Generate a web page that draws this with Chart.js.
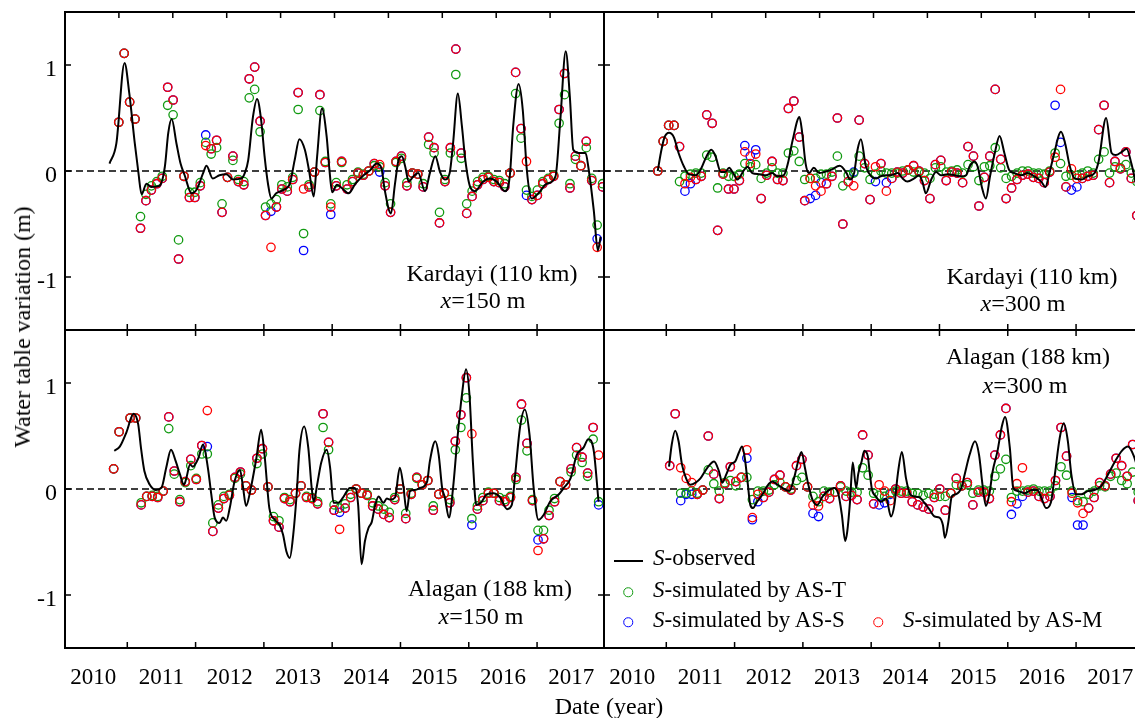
<!DOCTYPE html>
<html>
<head>
<meta charset="utf-8">
<script src="https://cdn.jsdelivr.net/npm/chart.js@4.4.0/dist/chart.umd.min.js"></script>
<style>
  html, body { margin: 0; padding: 0; background: #fff; }
  body { width: 1135px; height: 718px; overflow: hidden; position: relative;
         font-family: "Liberation Serif", "Times New Roman", serif; color: #000; }
  .panel { position: absolute; }
  .txt { position: absolute; font-size: 24px; line-height: 24px; white-space: nowrap;
         transform: translate(-50%, -50%); }
  .leg { position: absolute; font-size: 23px; line-height: 23px; white-space: nowrap;
         transform: translateY(-50%); }
  .leg-line { position: absolute; height: 0; border-top: 2px solid #000; }
  .leg-dot { position: absolute; width: 7.5px; height: 7.5px; border: 1.5px solid; border-radius: 50%;
             transform: translate(-50%, -50%); }
</style>
</head>
<body>

<div class="panel" style="left:0;top:0;width:605px;height:331px"><canvas id="p1"></canvas></div>
<div class="panel" style="left:604px;top:0;width:540px;height:331px"><canvas id="p2"></canvas></div>
<div class="panel" style="left:0;top:329px;width:605px;height:389px"><canvas id="p3"></canvas></div>
<div class="panel" style="left:604px;top:329px;width:540px;height:389px"><canvas id="p4"></canvas></div>

<div class="txt" style="left:492px;top:273px">Kardayi (110 km)</div>
<div class="txt" style="left:483px;top:300px"><i>x</i>=150 m</div>
<div class="txt" style="left:1032px;top:276px">Kardayi (110 km)</div>
<div class="txt" style="left:1023px;top:303px"><i>x</i>=300 m</div>
<div class="txt" style="left:490px;top:588px">Alagan (188 km)</div>
<div class="txt" style="left:481px;top:616px"><i>x</i>=150 m</div>
<div class="txt" style="left:1028px;top:356px">Alagan (188 km)</div>
<div class="txt" style="left:1025px;top:385px"><i>x</i>=300 m</div>

<div class="txt" style="left:22px;top:327px;transform:translate(-50%,-50%) rotate(-90deg)">Water table variation (m)</div>
<div class="txt" style="left:609px;top:706px">Date (year)</div>

<div class="leg-line" style="left:614px;top:560px;width:29px"></div>
<div class="leg" style="left:653px;top:557px"><i>S</i>-observed</div>
<div class="leg-dot" id="dotT" style="left:628px;top:592px"></div>
<div class="leg" style="left:653px;top:589px"><i>S</i>-simulated by AS-T</div>
<div class="leg-dot" id="dotS" style="left:628px;top:622px"></div>
<div class="leg" style="left:653px;top:619px"><i>S</i>-simulated by AS-S</div>
<div class="leg-dot" id="dotM" style="left:878px;top:622px"></div>
<div class="leg" style="left:903px;top:619px"><i>S</i>-simulated by AS-M</div>

<script>
// --- axes ---
const yearLabels = ['2010', '2011', '2012', '2013', '2014', '2015', '2016', '2017'];
const yearBounds = [2011, 2012, 2013, 2014, 2015, 2016, 2017];
const yTicks = [-1, 0, 1];
const xMin = 2010.088, xMax = 2017.98;

const colT = '#119a11', colS = '#0000ff', colM = '#ff0000';

// --- Kardayi, x = 150 m ---
const kar150Start = 2010.875, kar150Step = 0.0796;
const kar150Obs = [[2010.74,0.07],[2010.84,0.26],[2010.96,1.02],[2011.03,0.73],[2011.11,0.26],[2011.16,0],[2011.21,-0.22],[2011.28,-0.12],[2011.35,-0.15],[2011.47,-0.14],[2011.55,0.04],[2011.6,0.36],[2011.65,0.49],[2011.72,0.26],[2011.78,0.07],[2011.84,-0.04],[2011.94,-0.21],[2012.02,-0.17],[2012.11,-0.02],[2012.16,0.05],[2012.25,-0.07],[2012.35,-0.04],[2012.45,-0.03],[2012.55,-0.08],[2012.67,-0.07],[2012.72,-0.02],[2012.77,0.10],[2012.84,0.51],[2012.9,0.68],[2012.96,0.48],[2013.01,0.14],[2013.06,-0.12],[2013.11,-0.26],[2013.18,-0.21],[2013.28,-0.18],[2013.38,-0.12],[2013.45,0.10],[2013.52,0.30],[2013.6,0.20],[2013.66,0.01],[2013.73,-0.24],[2013.78,0.14],[2013.85,0.59],[2013.92,0.32],[2013.96,0.01],[2014.0,-0.2],[2014.07,-0.13],[2014.14,-0.16],[2014.24,-0.21],[2014.34,-0.12],[2014.46,-0.04],[2014.56,0.01],[2014.65,0.07],[2014.72,0.03],[2014.77,-0.18],[2014.86,-0.40],[2014.92,-0.12],[2014.97,0.10],[2015.02,0.14],[2015.07,0.04],[2015.12,-0.10],[2015.19,-0.05],[2015.26,-0.02],[2015.36,-0.19],[2015.43,-0.02],[2015.51,0.14],[2015.58,-0.01],[2015.65,-0.08],[2015.72,-0.02],[2015.77,0.26],[2015.84,0.73],[2015.9,0.42],[2015.95,0.10],[2016.02,-0.15],[2016.09,-0.19],[2016.21,-0.10],[2016.31,-0.07],[2016.41,-0.10],[2016.53,-0.19],[2016.6,-0.05],[2016.65,0.42],[2016.73,0.82],[2016.79,0.58],[2016.85,0.01],[2016.92,-0.26],[2017.02,-0.21],[2017.14,-0.12],[2017.27,-0.05],[2017.34,0.48],[2017.42,1.13],[2017.48,0.70],[2017.53,0.20],[2017.61,0.17],[2017.71,0.17],[2017.75,0.04],[2017.83,-0.37],[2017.89,-0.75],[2017.93,-0.62]];
const kar150T = [0.46,1.11,0.65,0.49,-0.43,-0.22,-0.14,-0.10,-0.05,0.62, 0.53,-0.65,-0.05,-0.20,-0.20,-0.11,0.27,0.16,0.22,-0.31, -0.06,0.10,-0.08,-0.10,0.69,0.77,0.37,-0.34,-0.31,-0.27, -0.13,-0.15,-0.06,0.58,-0.59,-0.13,-0.01,0.57,0.09,-0.31, -0.11,0.08,-0.13,-0.08,-0.01,-0.03,0.00,0.05,0.04,-0.11, -0.31,0.08,0.12,-0.11,-0.02,-0.03,-0.12,0.25,0.17,-0.39, -0.08,0.17,0.91,0.12,-0.31,-0.19,-0.10,-0.06,-0.05,-0.08, -0.09,-0.12,-0.02,0.73,0.31,-0.18,-0.24,-0.18,-0.10,-0.07, -0.04,0.45,0.72,-0.12,0.11,0.05,0.22,-0.07,-0.51,-0.12];
const kar150S = [0.46,1.11,0.65,0.49,-0.54,-0.28,-0.18,-0.12,-0.07,0.79, 0.67,-0.83,-0.05,-0.25,-0.25,-0.14,0.34,0.21,0.29,-0.39, -0.06,0.14,-0.10,-0.13,0.87,0.98,0.47,-0.42,-0.38,-0.34, -0.17,-0.19,-0.08,0.74,-0.75,-0.15,-0.01,0.72,0.08,-0.41, -0.14,0.09,-0.17,-0.10,-0.02,-0.04,0.00,0.07,-0.01,-0.14, -0.39,0.09,0.14,-0.14,-0.02,-0.03,-0.15,0.32,0.22,-0.49, -0.10,0.22,1.15,0.17,-0.40,-0.24,-0.13,-0.08,-0.06,-0.10, -0.11,-0.15,-0.02,0.93,0.40,-0.23,-0.27,-0.23,-0.12,-0.08, -0.05,0.58,0.92,-0.16,0.14,0.05,0.28,-0.09,-0.64,-0.15];
const kar150M = [0.46,1.11,0.65,0.49,-0.54,-0.28,-0.18,-0.12,-0.07,0.79, 0.67,-0.83,-0.05,-0.25,-0.25,-0.14,0.24,0.21,0.29,-0.39, -0.06,0.14,-0.10,-0.13,0.87,0.98,0.47,-0.42,-0.72,-0.34, -0.17,-0.19,-0.08,0.74,-0.17,-0.15,-0.01,0.72,0.08,-0.34, -0.14,0.09,-0.17,-0.10,-0.02,-0.04,0.00,0.07,0.06,-0.14, -0.39,0.09,0.14,-0.14,-0.02,-0.03,-0.15,0.32,0.22,-0.49, -0.10,0.22,1.15,0.17,-0.40,-0.24,-0.13,-0.08,-0.06,-0.10, -0.11,-0.15,-0.02,0.93,0.40,0.09,-0.27,-0.23,-0.12,-0.08, -0.05,0.58,0.92,-0.16,0.14,0.05,0.28,-0.09,-0.72,-0.15];

// --- Kardayi, x = 300 m ---
const kar300Start = 2010.875, kar300Step = 0.0797;
const kar300Obs = [[2010.875,0.0],[2010.92,0.17],[2010.97,0.31],[2011.04,0.36],[2011.11,0.32],[2011.18,0.17],[2011.26,0.04],[2011.33,-0.03],[2011.43,-0.04],[2011.5,0.01],[2011.59,0.14],[2011.66,0.20],[2011.72,0.14],[2011.8,-0.01],[2011.86,-0.01],[2011.92,0.03],[2011.98,-0.02],[2012.04,-0.08],[2012.14,0.01],[2012.19,0.04],[2012.26,-0.02],[2012.36,-0.03],[2012.46,-0.04],[2012.55,-0.02],[2012.63,-0.05],[2012.72,-0.04],[2012.78,0.07],[2012.85,0.29],[2012.95,0.51],[2012.99,0.36],[2013.04,0.07],[2013.09,-0.02],[2013.16,0.03],[2013.24,-0.02],[2013.31,-0.01],[2013.41,0.01],[2013.54,0.05],[2013.64,-0.02],[2013.69,-0.08],[2013.75,-0.02],[2013.8,0.20],[2013.85,0.30],[2013.92,0.05],[2014.0,-0.05],[2014.07,-0.07],[2014.14,-0.05],[2014.22,-0.04],[2014.29,-0.04],[2014.39,-0.02],[2014.46,-0.07],[2014.53,-0.10],[2014.63,-0.07],[2014.7,-0.04],[2014.75,-0.10],[2014.8,-0.21],[2014.88,-0.08],[2014.95,-0.01],[2015.02,-0.04],[2015.12,-0.03],[2015.22,-0.04],[2015.32,-0.05],[2015.39,-0.04],[2015.44,0.04],[2015.51,0.09],[2015.56,0.04],[2015.62,-0.15],[2015.68,-0.26],[2015.74,-0.05],[2015.81,0.17],[2015.88,0.33],[2015.95,0.17],[2016.02,0.01],[2016.1,-0.02],[2016.2,-0.04],[2016.29,-0.02],[2016.39,-0.05],[2016.49,-0.10],[2016.55,-0.15],[2016.61,-0.02],[2016.67,0.14],[2016.78,0.37],[2016.84,0.26],[2016.91,0.04],[2016.98,-0.07],[2017.08,-0.08],[2017.17,-0.05],[2017.27,-0.02],[2017.33,0.09],[2017.44,0.50],[2017.52,0.17],[2017.58,0.15],[2017.67,0.18],[2017.74,0.21],[2017.81,0.07],[2017.89,-0.16],[2017.95,-0.3]];
const kar300T = [0.0,0.28,0.43,0.43,-0.10,-0.05,-0.03,-0.02,-0.02,0.15, 0.13,-0.16,-0.02,-0.05,-0.05,-0.03,0.07,0.04,0.06,-0.07, -0.02,0.03,-0.02,-0.02,0.17,0.19,0.09,-0.08,-0.07,-0.07, -0.03,-0.03,-0.01,0.14,-0.14,-0.04,-0.02,0.14,0.03,-0.08, -0.03,0.00,-0.02,-0.02,-0.02,0.00,0.01,-0.01,-0.01,-0.02, -0.07,0.03,0.04,-0.01,0.00,0.01,-0.02,0.06,0.04,-0.09, 0.04,0.05,0.22,0.03,-0.07,-0.05,-0.02,0.00,0.00,-0.02, -0.02,-0.03,0.00,0.17,0.07,-0.05,-0.04,-0.04,-0.02,0.00, -0.02,0.11,0.18,-0.02,0.04,0.03,0.06,-0.02,-0.10];
const kar300S = [0.0,0.28,0.43,0.43,0.23,-0.19,-0.12,-0.08,-0.05,0.53, 0.45,-0.56,-0.03,-0.17,-0.17,-0.09,0.24,0.14,0.20,-0.26, -0.04,0.09,-0.08,-0.09,0.59,0.66,0.32,-0.28,-0.26,-0.23, -0.11,-0.12,-0.05,0.50,-0.50,-0.10,-0.01,0.48,0.07,-0.27, -0.10,0.07,-0.11,-0.07,-0.01,-0.02,0.01,0.05,0.00,-0.09, -0.26,0.06,0.10,-0.09,-0.01,-0.02,-0.11,0.23,0.14,-0.33, -0.06,0.14,0.77,0.11,-0.26,-0.16,-0.08,-0.04,-0.03,-0.06, -0.07,-0.11,-0.01,0.62,0.27,-0.15,-0.18,-0.15,-0.07,-0.05, -0.04,0.39,0.62,-0.11,0.09,0.02,0.18,-0.07,-0.42];
const kar300M = [0.0,0.28,0.43,0.43,0.23,-0.12,-0.06,-0.08,-0.05,0.53, 0.45,-0.56,-0.03,-0.17,-0.17,-0.09,0.18,0.07,0.16,-0.26, -0.04,0.09,-0.08,-0.09,0.59,0.66,0.32,-0.28,-0.07,-0.14, -0.19,-0.12,-0.05,0.50,-0.50,-0.10,-0.14,0.48,0.07,-0.27, 0.04,0.07,-0.19,-0.07,-0.01,-0.02,0.01,0.05,0.00,-0.09, -0.26,0.06,0.10,-0.09,-0.01,-0.02,-0.11,0.23,0.14,-0.33, -0.06,0.14,0.77,0.11,-0.26,-0.16,-0.08,-0.04,-0.03,-0.06, -0.07,-0.11,-0.01,0.13,0.77,-0.15,0.02,-0.07,-0.07,-0.05, -0.04,0.39,0.62,-0.11,0.09,0.02,0.18,-0.07,-0.42];

// --- Alagan, x = 150 m ---
const ala150Start = 2010.80, ala150Step = 0.0807;
const ala150Obs = [[2010.81,0.36],[2010.89,0.40],[2010.99,0.54],[2011.09,0.71],[2011.16,0.61],[2011.2,0.39],[2011.25,0.17],[2011.33,0.04],[2011.42,-0.01],[2011.5,0.01],[2011.57,0.20],[2011.64,0.37],[2011.71,0.26],[2011.77,0.14],[2011.83,0.04],[2011.86,0.09],[2011.92,0.23],[2011.96,0.21],[2012.04,0.29],[2012.11,0.42],[2012.18,0.20],[2012.23,-0.05],[2012.28,-0.27],[2012.35,-0.32],[2012.4,-0.27],[2012.45,-0.30],[2012.5,-0.18],[2012.57,0.07],[2012.65,0.18],[2012.69,0.04],[2012.74,-0.16],[2012.8,-0.02],[2012.89,0.29],[2012.96,0.56],[2013.01,0.32],[2013.08,-0.18],[2013.16,-0.29],[2013.23,-0.34],[2013.28,-0.43],[2013.33,-0.59],[2013.38,-0.65],[2013.43,-0.43],[2013.48,-0.05],[2013.52,0.36],[2013.59,0.59],[2013.65,0.39],[2013.7,0.01],[2013.73,-0.12],[2013.78,0.04],[2013.84,0.25],[2013.92,0.37],[2013.97,0.20],[2014.02,-0.13],[2014.09,-0.13],[2014.16,-0.08],[2014.26,0.01],[2014.33,0.01],[2014.38,-0.15],[2014.43,-0.71],[2014.48,-0.49],[2014.53,-0.37],[2014.58,-0.31],[2014.63,-0.15],[2014.68,-0.07],[2014.75,-0.13],[2014.8,-0.09],[2014.85,-0.10],[2014.92,-0.08],[2014.99,0.20],[2015.04,0.04],[2015.09,-0.21],[2015.14,-0.02],[2015.21,-0.01],[2015.29,0.01],[2015.39,0.07],[2015.43,0.26],[2015.51,0.45],[2015.56,0.32],[2015.61,0.01],[2015.65,-0.08],[2015.71,-0.27],[2015.77,0.01],[2015.83,0.45],[2015.9,0.89],[2015.96,1.13],[2016.01,0.89],[2016.06,0.26],[2016.11,-0.15],[2016.19,-0.12],[2016.26,-0.05],[2016.36,-0.04],[2016.46,-0.08],[2016.56,-0.19],[2016.63,-0.15],[2016.68,0.14],[2016.75,0.58],[2016.82,0.75],[2016.89,0.51],[2016.95,0.01],[2017.02,-0.29],[2017.1,-0.24],[2017.19,-0.12],[2017.32,-0.05],[2017.39,0.01],[2017.49,0.10],[2017.58,0.32],[2017.68,0.39],[2017.75,0.47],[2017.83,0.36],[2017.9,-0.12]];
const ala150T = [0.19,0.54,null,0.67,0.67,-0.13,-0.07,-0.06,-0.07,-0.02, 0.57,0.14,-0.10,0.06,0.22,0.10,0.33,0.33,-0.32,-0.15, -0.07,-0.05,0.10,0.14,0.03,-0.01,0.24,0.33,0.02,-0.26, -0.30,-0.08,-0.10,-0.04,0.03,-0.07,-0.08,-0.12,0.58,0.37, -0.15,-0.18,-0.14,-0.05,0.00,-0.04,-0.05,-0.13,-0.16,-0.19, -0.22,-0.08,0.00,-0.23,-0.04,0.10,0.04,0.08,-0.16,-0.05, -0.04,-0.10,0.37,0.58,0.86,-0.28,-0.16,-0.08,-0.03,-0.04, -0.08,-0.10,-0.07,0.09,0.65,0.36,-0.10,-0.39,-0.39,-0.20, -0.09,0.07,0.04,0.16,0.32,0.25,0.12,0.47,-0.12];
const ala150S = [0.19,0.54,null,0.67,0.67,-0.15,-0.07,-0.07,-0.08,-0.02, 0.68,0.17,-0.12,0.07,0.28,0.09,0.41,0.40,-0.40,-0.18, -0.09,-0.06,0.11,0.16,0.03,-0.01,0.29,0.38,0.02,-0.30, -0.36,-0.09,-0.12,-0.04,0.03,-0.08,-0.09,-0.14,0.71,0.44, -0.20,-0.22,-0.18,-0.08,0.00,-0.04,-0.06,-0.16,-0.19,-0.24, -0.27,-0.10,0.00,-0.28,-0.05,0.11,0.04,0.08,-0.20,-0.05, -0.04,-0.13,0.45,0.70,1.05,-0.34,-0.19,-0.11,-0.04,-0.04, -0.11,-0.12,-0.08,0.11,0.80,0.43,-0.11,-0.48,-0.47,-0.25, -0.12,0.07,0.04,0.19,0.39,0.30,0.15,0.58,-0.15];
const ala150M = [0.19,0.54,null,0.67,0.67,-0.15,-0.07,-0.07,-0.08,-0.02, 0.68,0.17,-0.12,0.07,0.28,0.09,0.41,0.74,-0.40,-0.18, -0.09,-0.06,0.11,0.16,0.03,-0.01,0.29,0.38,0.02,-0.30, -0.36,-0.09,-0.12,-0.04,0.03,-0.08,-0.09,-0.14,0.71,0.44, -0.20,-0.38,-0.18,-0.08,0.00,-0.04,-0.06,-0.16,-0.19,-0.24, -0.27,-0.10,0.00,-0.28,-0.05,0.11,0.04,0.08,-0.20,-0.05, -0.04,-0.13,0.45,0.70,1.05,0.52,-0.19,-0.11,-0.04,-0.04, -0.11,-0.12,-0.08,0.11,0.80,0.43,-0.11,-0.58,-0.47,-0.25, -0.12,0.07,0.04,0.19,0.39,0.30,0.15,0.58,0.32];

// --- Alagan, x = 300 m ---
const ala300Start = 2011.05, ala300Step = 0.0807;
const ala300Obs = [[2011.04,0.21],[2011.08,0.42],[2011.13,0.55],[2011.18,0.45],[2011.23,0.23],[2011.29,0.10],[2011.35,0.04],[2011.43,0.06],[2011.5,0.10],[2011.6,0.20],[2011.7,0.26],[2011.77,0.17],[2011.82,0.06],[2011.88,0.14],[2011.94,0.23],[2012.01,0.26],[2012.06,0.34],[2012.11,0.40],[2012.15,0.29],[2012.19,0.07],[2012.23,-0.15],[2012.27,-0.18],[2012.33,-0.12],[2012.41,-0.05],[2012.48,0.03],[2012.55,0.07],[2012.63,0.04],[2012.7,0.01],[2012.8,-0.02],[2012.87,0.10],[2012.93,0.26],[2012.98,0.35],[2013.03,0.20],[2013.08,0.04],[2013.14,-0.10],[2013.21,-0.15],[2013.29,-0.07],[2013.36,-0.02],[2013.46,0.01],[2013.52,-0.05],[2013.57,-0.24],[2013.62,-0.49],[2013.65,-0.40],[2013.69,-0.12],[2013.73,0.25],[2013.78,0.01],[2013.81,0.14],[2013.86,0.26],[2013.9,0.36],[2013.95,0.31],[2013.98,0.15],[2014.01,0.0],[2014.07,-0.07],[2014.14,-0.12],[2014.22,-0.09],[2014.29,-0.26],[2014.34,-0.15],[2014.39,0.14],[2014.45,0.35],[2014.51,0.10],[2014.57,-0.05],[2014.63,-0.07],[2014.71,-0.08],[2014.78,-0.13],[2014.85,-0.19],[2014.93,-0.26],[2015.0,-0.27],[2015.05,-0.34],[2015.08,-0.46],[2015.13,-0.31],[2015.18,-0.07],[2015.24,-0.05],[2015.32,0.01],[2015.37,0.14],[2015.44,0.32],[2015.52,0.45],[2015.58,0.32],[2015.63,0.04],[2015.68,-0.16],[2015.73,-0.05],[2015.78,0.17],[2015.85,0.36],[2015.91,0.58],[2015.96,0.68],[2016.03,0.39],[2016.08,0.01],[2016.15,-0.02],[2016.25,-0.04],[2016.35,-0.01],[2016.43,-0.01],[2016.49,-0.08],[2016.56,-0.18],[2016.63,-0.13],[2016.69,0.14],[2016.76,0.48],[2016.82,0.62],[2016.88,0.45],[2016.93,0.14],[2017.0,-0.05],[2017.08,-0.05],[2017.17,-0.02],[2017.27,-0.01],[2017.37,0.03],[2017.47,0.14],[2017.57,0.26],[2017.67,0.36],[2017.76,0.40],[2017.84,0.32],[2017.9,0.2]];
const ala300T = [null,null,-0.04,-0.04,-0.02,-0.04,-0.01,0.18,0.05,-0.02, 0.06,0.08,0.03,0.11,0.11,-0.10,-0.02,-0.02,-0.01,0.04, 0.06,0.02,0.00,0.08,0.11,0.02,-0.07,-0.12,-0.02,-0.03, -0.03,0.02,-0.02,-0.03,-0.03,0.20,0.13,-0.04,-0.06,-0.07, -0.04,-0.02,-0.02,-0.02,-0.04,-0.04,-0.06,-0.04,-0.05,-0.07, -0.07,-0.04,0.04,0.03,0.04,-0.04,-0.01,-0.01,-0.02,0.12, 0.19,0.28,-0.08,-0.02,-0.02,-0.01,0.00,-0.02,-0.02,-0.02, 0.03,0.21,0.13,-0.02,-0.11,-0.12,-0.05,-0.02,0.03,0.02, 0.12,0.15,0.08,0.05,0.16,-0.03];
const ala300S = [0.22,0.71,-0.11,-0.05,-0.05,-0.05,-0.01,0.50,0.14,-0.09, 0.05,0.21,0.07,0.11,0.29,-0.29,-0.12,-0.08,-0.03,0.09, 0.13,0.02,-0.01,0.22,0.28,0.02,-0.23,-0.26,-0.07,-0.09, -0.03,0.03,-0.07,-0.06,-0.10,0.51,0.32,-0.14,-0.15,-0.13, -0.05,0.00,-0.04,-0.04,-0.12,-0.15,-0.17,-0.19,-0.08,0.00, -0.20,-0.04,0.10,0.03,0.06,-0.15,-0.03,-0.03,-0.09,0.32, 0.51,0.76,-0.24,-0.14,-0.07,-0.03,-0.02,-0.07,-0.09,-0.07, 0.08,0.58,0.31,-0.08,-0.34,-0.34,-0.18,-0.08,0.06,0.03, 0.14,0.29,0.22,0.12,0.42,-0.11];
const ala300M = [0.22,0.71,0.20,0.10,0.06,-0.05,-0.01,0.50,0.14,-0.09, 0.05,0.21,0.07,0.11,0.37,-0.27,-0.05,-0.08,-0.03,0.09, 0.13,0.02,-0.01,0.22,0.28,0.02,-0.15,-0.16,-0.07,-0.09, -0.03,0.03,-0.07,-0.06,-0.10,0.51,0.32,-0.14,0.04,-0.02, -0.11,0.00,-0.04,-0.04,-0.12,-0.15,-0.17,-0.19,-0.08,0.00, -0.20,-0.04,0.10,0.03,0.06,-0.15,-0.03,-0.03,-0.09,0.32, 0.51,0.76,-0.12,0.05,0.20,-0.03,-0.02,-0.07,-0.09,-0.07, 0.08,0.58,0.31,-0.04,-0.13,-0.23,-0.18,-0.08,0.06,0.03, 0.14,0.29,0.22,0.12,0.42,-0.11];

// sampled series -> {x, y}, skipping missing samples
function samples(vals, start, step) {
  const out = [];
  vals.forEach((v, i) => { if (v !== null) out.push({ x: start + i * step, y: v }); });
  return out;
}

// dashed zero line, frame and inward ticks
const framePlugin = {
  id: 'frame',
  beforeDatasetsDraw(chart) {
    const { ctx, chartArea: a } = chart;
    const y0 = chart.scales.y.getPixelForValue(0);
    ctx.save();
    ctx.strokeStyle = '#000';
    ctx.lineWidth = 1.5;
    ctx.setLineDash([7, 4]);
    ctx.beginPath();
    ctx.moveTo(a.left, y0);
    ctx.lineTo(a.right, y0);
    ctx.stroke();
    ctx.restore();
  },
  afterDraw(chart, args, opts) {
    const { ctx, chartArea: a } = chart;
    const xs = chart.scales.x, ys = chart.scales.y;
    const t = 6;
    ctx.save();
    ctx.strokeStyle = '#000';
    ctx.lineWidth = 1.5;
    ctx.beginPath();
    yTicks.forEach(v => {
      const py = ys.getPixelForValue(v);
      ctx.moveTo(a.left, py); ctx.lineTo(a.left + t, py);
      ctx.moveTo(a.right, py); ctx.lineTo(a.right - t, py);
    });
    yearBounds.forEach(v => {
      const px = xs.getPixelForValue(v);
      ctx.moveTo(px, a.bottom); ctx.lineTo(px, a.bottom - t);
      if (!opts.topTenths) { ctx.moveTo(px, a.top); ctx.lineTo(px, a.top + t); }
    });
    if (opts.topTenths) {
      for (let i = 1; i < 10; i++) {
        const px = a.left + (a.right - a.left) * i / 10;
        ctx.moveTo(px, a.top); ctx.lineTo(px, a.top + t);
      }
    }
    ctx.stroke();
    ctx.lineWidth = 2;
    ctx.strokeRect(a.left, a.top, a.right - a.left, a.bottom - a.top);
    ctx.restore();
  }
};

function scatterSet(data, color, order) {
  return {
    type: 'line', data, showLine: false, order, clip: 0,
    pointRadius: 4.2, pointHoverRadius: 4.2, pointBorderWidth: 1.3,
    pointBorderColor: color, pointBackgroundColor: 'rgba(0,0,0,0)'
  };
}

function makePanel(id, obs, t, s, m, start, step, yLabels, xLabels, topTenths) {
  return new Chart(document.getElementById(id), {
    type: 'line',
    data: {
      datasets: [
        { data: obs.map(p => ({ x: p[0], y: p[1] })), borderColor: '#000', borderWidth: 2,
          pointRadius: 0, cubicInterpolationMode: 'monotone', order: 0, clip: 0 },
        scatterSet(samples(m, start, step), colM, 1),
        scatterSet(samples(t, start, step), colT, 2),
        scatterSet(samples(s, start, step), colS, 3)
      ]
    },
    options: {
      responsive: true,
      maintainAspectRatio: false,
      animation: false,
      devicePixelRatio: 1,
      events: [],
      layout: { autoPadding: false,
                padding: { top: xLabels ? 1 : 12, right: 1, bottom: xLabels ? 0 : 1, left: 0 } },
      plugins: { legend: { display: false }, tooltip: { enabled: false }, frame: { topTenths } },
      scales: {
        x: {
          type: 'linear', min: xMin, max: xMax,
          grid: { display: false, drawTicks: false }, border: { display: false },
          afterBuildTicks: sc => { sc.ticks = yearLabels.map(l => ({ value: Number(l) + 0.5 })); },
          afterFit: sc => { sc.height = xLabels ? 70 : 0; sc.paddingLeft = 0; sc.paddingRight = 0; },
          ticks: { display: xLabels, autoSkip: false, maxRotation: 0, padding: 16, color: '#000',
                   font: { family: 'Liberation Serif', size: 23 },
                   callback: (v, i) => yearLabels[i] }
        },
        y: {
          min: -1.5, max: 1.5,
          grid: { display: false, drawTicks: false }, border: { display: false },
          afterBuildTicks: sc => { sc.ticks = yTicks.map(v => ({ value: v })); },
          afterFit: sc => { sc.width = yLabels ? 65 : 0; sc.paddingTop = 0; sc.paddingBottom = 0; },
          ticks: { display: yLabels, padding: 8, labelOffset: 5, color: '#000',
                   font: { family: 'Liberation Serif', size: 24 }, callback: v => String(v) }
        }
      }
    },
    plugins: [framePlugin]
  });
}

makePanel('p1', kar150Obs, kar150T, kar150S, kar150M, kar150Start, kar150Step, true, false, true);
makePanel('p2', kar300Obs, kar300T, kar300S, kar300M, kar300Start, kar300Step, false, false, true);
makePanel('p3', ala150Obs, ala150T, ala150S, ala150M, ala150Start, ala150Step, true, true, false);
makePanel('p4', ala300Obs, ala300T, ala300S, ala300M, ala300Start, ala300Step, false, true, false);

document.getElementById('dotT').style.borderColor = colT;
document.getElementById('dotS').style.borderColor = colS;
document.getElementById('dotM').style.borderColor = colM;
</script>
</body>
</html>
